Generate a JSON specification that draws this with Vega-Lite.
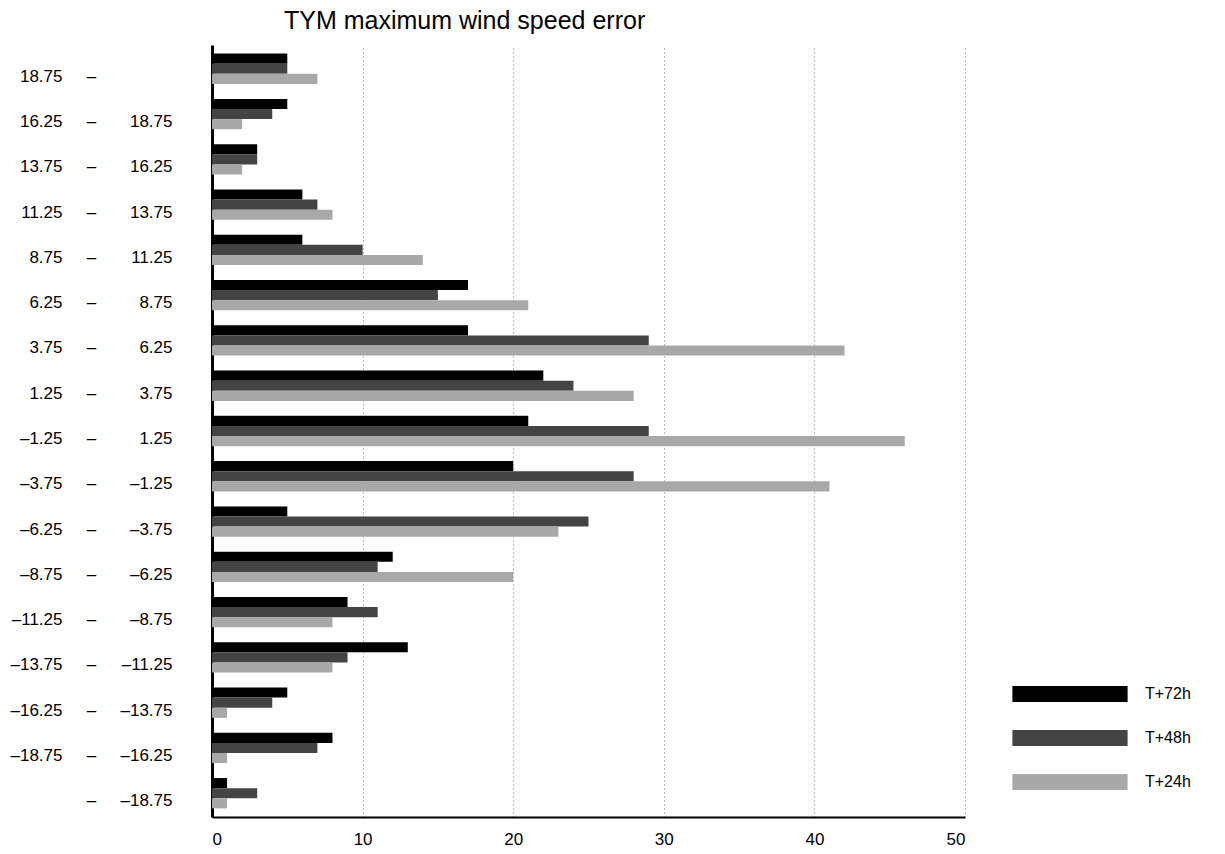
{
  "$schema": "https://vega.github.io/schema/vega-lite/v6.json",
  "width": 753,
  "height": 772,
  "autosize": {"type": "none"},
  "padding": {"left": 212, "top": 45, "right": 260, "bottom": 37},
  "background": "white",
  "config": {
    "font": "Liberation Sans",
    "view": {"stroke": null},
    "axis": {"labelColor": "black", "labelFont": "Liberation Sans"}
  },
  "title": {
    "text": "TYM maximum wind speed error",
    "anchor": "start",
    "frame": "group",
    "dx": 72,
    "offset": 11,
    "fontSize": 25,
    "fontWeight": "normal",
    "color": "black",
    "font": "Liberation Sans"
  },
  "data": {
    "values": [
      {"bin": "18.75|", "series": "T+72h", "value": 5},
      {"bin": "18.75|", "series": "T+48h", "value": 5},
      {"bin": "18.75|", "series": "T+24h", "value": 7},
      {"bin": "16.25|18.75", "series": "T+72h", "value": 5},
      {"bin": "16.25|18.75", "series": "T+48h", "value": 4},
      {"bin": "16.25|18.75", "series": "T+24h", "value": 2},
      {"bin": "13.75|16.25", "series": "T+72h", "value": 3},
      {"bin": "13.75|16.25", "series": "T+48h", "value": 3},
      {"bin": "13.75|16.25", "series": "T+24h", "value": 2},
      {"bin": "11.25|13.75", "series": "T+72h", "value": 6},
      {"bin": "11.25|13.75", "series": "T+48h", "value": 7},
      {"bin": "11.25|13.75", "series": "T+24h", "value": 8},
      {"bin": "8.75|11.25", "series": "T+72h", "value": 6},
      {"bin": "8.75|11.25", "series": "T+48h", "value": 10},
      {"bin": "8.75|11.25", "series": "T+24h", "value": 14},
      {"bin": "6.25|8.75", "series": "T+72h", "value": 17},
      {"bin": "6.25|8.75", "series": "T+48h", "value": 15},
      {"bin": "6.25|8.75", "series": "T+24h", "value": 21},
      {"bin": "3.75|6.25", "series": "T+72h", "value": 17},
      {"bin": "3.75|6.25", "series": "T+48h", "value": 29},
      {"bin": "3.75|6.25", "series": "T+24h", "value": 42},
      {"bin": "1.25|3.75", "series": "T+72h", "value": 22},
      {"bin": "1.25|3.75", "series": "T+48h", "value": 24},
      {"bin": "1.25|3.75", "series": "T+24h", "value": 28},
      {"bin": "–1.25|1.25", "series": "T+72h", "value": 21},
      {"bin": "–1.25|1.25", "series": "T+48h", "value": 29},
      {"bin": "–1.25|1.25", "series": "T+24h", "value": 46},
      {"bin": "–3.75|–1.25", "series": "T+72h", "value": 20},
      {"bin": "–3.75|–1.25", "series": "T+48h", "value": 28},
      {"bin": "–3.75|–1.25", "series": "T+24h", "value": 41},
      {"bin": "–6.25|–3.75", "series": "T+72h", "value": 5},
      {"bin": "–6.25|–3.75", "series": "T+48h", "value": 25},
      {"bin": "–6.25|–3.75", "series": "T+24h", "value": 23},
      {"bin": "–8.75|–6.25", "series": "T+72h", "value": 12},
      {"bin": "–8.75|–6.25", "series": "T+48h", "value": 11},
      {"bin": "–8.75|–6.25", "series": "T+24h", "value": 20},
      {"bin": "–11.25|–8.75", "series": "T+72h", "value": 9},
      {"bin": "–11.25|–8.75", "series": "T+48h", "value": 11},
      {"bin": "–11.25|–8.75", "series": "T+24h", "value": 8},
      {"bin": "–13.75|–11.25", "series": "T+72h", "value": 13},
      {"bin": "–13.75|–11.25", "series": "T+48h", "value": 9},
      {"bin": "–13.75|–11.25", "series": "T+24h", "value": 8},
      {"bin": "–16.25|–13.75", "series": "T+72h", "value": 5},
      {"bin": "–16.25|–13.75", "series": "T+48h", "value": 4},
      {"bin": "–16.25|–13.75", "series": "T+24h", "value": 1},
      {"bin": "–18.75|–16.25", "series": "T+72h", "value": 8},
      {"bin": "–18.75|–16.25", "series": "T+48h", "value": 7},
      {"bin": "–18.75|–16.25", "series": "T+24h", "value": 1},
      {"bin": "|–18.75", "series": "T+72h", "value": 1},
      {"bin": "|–18.75", "series": "T+48h", "value": 3},
      {"bin": "|–18.75", "series": "T+24h", "value": 1}
    ]
  },
  "encoding": {
    "x": {
      "field": "value",
      "type": "quantitative",
      "scale": {"domain": [0, 50], "nice": false, "zero": true},
      "axis": {
        "title": null,
        "values": [0, 10, 20, 30, 40, 50],
        "ticks": false,
        "labelFontSize": 17,
        "labelPadding": 14,
        "domainColor": "black",
        "domainWidth": 2,
        "grid": true,
        "gridColor": "#777777",
        "gridDash": [1, 3],
        "gridWidth": 1
      }
    }
  },
  "layer": [
    {
      "mark": {"type": "bar"},
      "encoding": {
        "y": {
          "field": "bin",
          "type": "nominal",
          "sort": null,
          "scale": {"paddingInner": 0.33, "paddingOuter": 0.19},
          "axis": {
            "orient": "left",
            "title": null,
            "ticks": false,
            "domainColor": "black",
            "domainWidth": 3,
            "labelExpr": "split(datum.value, '|')[1]",
            "labelAlign": "right",
            "labelPadding": 40,
            "labelOffset": 8,
            "labelFontSize": 17
          }
        },
        "yOffset": {
          "field": "series",
          "type": "nominal",
          "sort": ["T+72h", "T+48h", "T+24h"],
          "scale": {"paddingInner": 0, "paddingOuter": 0}
        },
        "color": {
          "field": "series",
          "type": "nominal",
          "scale": {
            "domain": ["T+72h", "T+48h", "T+24h"],
            "range": ["#000000", "#444444", "#a8a8a8"]
          },
          "legend": {
            "title": null,
            "orient": "none",
            "legendX": 850,
            "legendY": 641,
            "padding": 0,
            "symbolType": "M-7.2,-1H7.2V1H-7.2Z",
            "symbolSize": 256,
            "symbolStrokeWidth": 0,
            "symbolOpacity": 1,
            "rowPadding": 28,
            "labelOffset": 67,
            "labelFontSize": 16,
            "labelColor": "black",
            "labelFont": "Liberation Sans"
          }
        }
      }
    },
    {
      "mark": {"type": "bar", "opacity": 0},
      "encoding": {
        "y": {
          "field": "bin",
          "type": "nominal",
          "sort": null,
          "scale": {"paddingInner": 0.33, "paddingOuter": 0.19},
          "axis": {
            "orient": "left",
            "title": null,
            "ticks": false,
            "domain": false,
            "labelExpr": "'–'",
            "labelAlign": "center",
            "labelPadding": 121,
            "labelOffset": 8,
            "labelFontSize": 17
          }
        }
      }
    },
    {
      "mark": {"type": "bar", "opacity": 0},
      "encoding": {
        "y": {
          "field": "bin",
          "type": "nominal",
          "sort": null,
          "scale": {"paddingInner": 0.33, "paddingOuter": 0.19},
          "axis": {
            "orient": "left",
            "title": null,
            "ticks": false,
            "domain": false,
            "labelExpr": "split(datum.value, '|')[0]",
            "labelAlign": "right",
            "labelPadding": 150,
            "labelOffset": 8,
            "labelFontSize": 17
          }
        }
      }
    }
  ],
  "resolve": {"axis": {"y": "independent"}}
}
